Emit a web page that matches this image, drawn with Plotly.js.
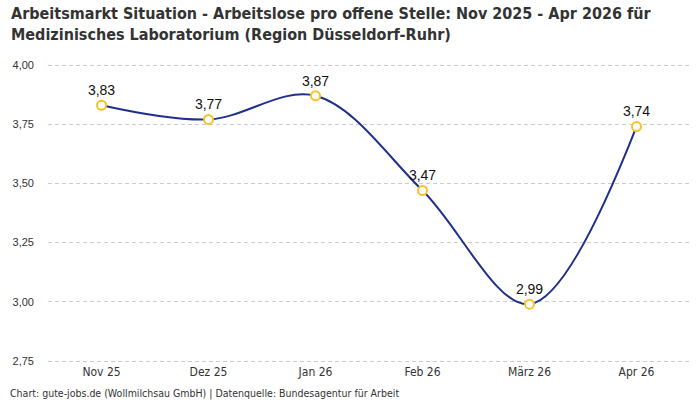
<!DOCTYPE html>
<html>
<head>
<meta charset="utf-8">
<script src="https://cdn.plot.ly/plotly-3.0.1.min.js"></script>
<style>
  html, body { margin: 0; padding: 0; background: #fff; }
  #chart { width: 700px; height: 400px; }
</style>
</head>
<body>
<div id="chart"></div>
<script>
// Monthly ratio of unemployed persons per open position
const months = ["Nov 25", "Dez 25", "Jan 26", "Feb 26", "März 26", "Apr 26"];
const ratio = [3.83, 3.77, 3.87, 3.47, 2.99, 3.74];
const yTicks = [2.75, 3.00, 3.25, 3.50, 3.75, 4.00];

const fmt = v => v.toFixed(2).replace(".", ",");
const narrow = "Liberation Sans Narrow, DejaVu Sans Condensed, sans-serif";

// plot area: 4,00 at y=65 and 2,75 at y=361, padded by 2px so edge gridlines show
const pad = 2 / (296 / 1.25);

const trace = {
  x: months,
  y: ratio,
  type: "scatter",
  mode: "lines+markers+text",
  line: { shape: "spline", smoothing: 1, color: "#1f2f8c", width: 2 },
  marker: { size: 9, color: "#ffffff", line: { color: "#f7c325", width: 2 } },
  text: ratio.map(fmt),
  textposition: "top center",
  textfont: { family: "Liberation Sans, Arial, sans-serif", size: 14, color: "#111111" },
  cliponaxis: false,
  hoverinfo: "skip"
};

const layout = {
  width: 700,
  height: 400,
  margin: { l: 48, r: 10, t: 63, b: 37 },
  paper_bgcolor: "#ffffff",
  plot_bgcolor: "#ffffff",
  separators: ",.",
  showlegend: false,
  xaxis: {
    type: "category",
    range: [-0.5, 5.5],
    showgrid: false,
    zeroline: false,
    showline: false,
    ticks: "",
    tickfont: { family: narrow, size: 12, color: "#333333" }
  },
  yaxis: {
    range: [2.75 - pad, 4.0 + pad],
    tickvals: yTicks,
    tickformat: ".2f",
    showgrid: true,
    gridcolor: "#cccccc",
    griddash: "4px,3px",
    gridwidth: 1,
    zeroline: false,
    showline: false,
    ticks: "",
    ticklabelstandoff: 13,
    tickfont: { family: "Liberation Sans, Arial, sans-serif", size: 11, color: "#333333" }
  },
  annotations: [
    {
      text: "<b>Arbeitsmarkt Situation - Arbeitslose pro offene Stelle: Nov 2025 - Apr 2026 für<br>Medizinisches Laboratorium (Region Düsseldorf-Ruhr)</b>",
      xref: "paper", yref: "paper",
      x: -0.061, y: 1, xanchor: "left", yanchor: "top", align: "left",
      yshift: 61,
      showarrow: false,
      font: { family: narrow, size: 16, color: "#333333" }
    },
    {
      text: "Chart: gute-jobs.de (Wollmilchsau GmbH) | Datenquelle: Bundesagentur für Arbeit",
      xref: "paper", yref: "paper",
      x: -0.061, y: 0, xanchor: "left", yanchor: "top",
      yshift: -23,
      borderpad: 0,
      showarrow: false,
      font: { family: narrow, size: 10.5, color: "#333333" }
    }
  ]
};

Plotly.newPlot("chart", [trace], layout, { staticPlot: true, displayModeBar: false });
</script>
</body>
</html>
